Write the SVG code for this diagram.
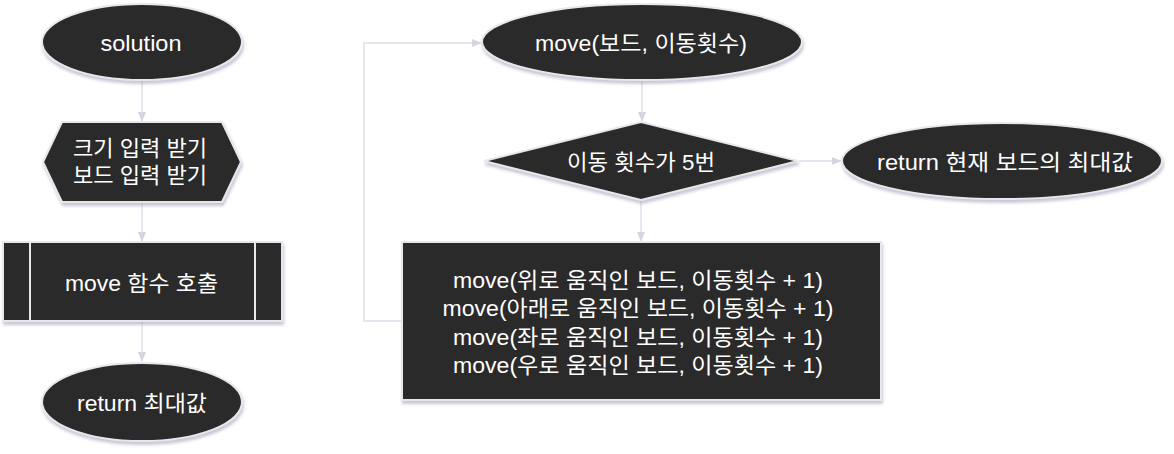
<svg xmlns="http://www.w3.org/2000/svg" width="1174" height="454" viewBox="0 0 1174 454">
<defs>
<filter id="sh" x="-10%" y="-10%" width="120%" height="130%">
<feDropShadow dx="1" dy="3" stdDeviation="1.5" flood-color="#9a9ab8" flood-opacity="0.55"/>
</filter>
<marker id="ah" viewBox="0 0 10 10" refX="9" refY="5" markerWidth="5" markerHeight="5" orient="auto">
<path d="M0,1 L10,5 L0,9 z" fill="#d6d6e0"/>
</marker>
</defs>
<style>
.n{fill:#2a2a2a;stroke:#e8e8ec;stroke-width:2;filter:url(#sh)}
.t{font-family:"Liberation Sans","Noto Sans CJK KR",sans-serif;font-size:22px;fill:#ffffff;text-anchor:middle;dominant-baseline:central}
.c{fill:none;stroke:#e6e6ee;stroke-width:2;marker-end:url(#ah)}
.il{stroke:#e8e8ec;stroke-width:2}
</style>
<rect width="1174" height="454" fill="#ffffff"/>
<g id="connectors">
<path class="c" d="M142,81 L142,121"/>
<path class="c" d="M142,203 L142,241"/>
<path class="c" d="M142,322 L142,361"/>
<path class="c" d="M642,81 L642,121"/>
<path class="c" d="M641,201 L641,241"/>
<path class="c" d="M799,161 L841,161"/>
<path class="c" d="M402,321 L364,321 L364,43 L481,43"/>
</g>
<g id="solution">
<ellipse class="n" cx="142" cy="42" rx="100" ry="38"/>
<text class="t" x="141" y="43" textLength="81" lengthAdjust="spacingAndGlyphs">solution</text>
</g>
<g id="input">
<polygon class="n" points="62,122 222,122 241,162 222,202 62,202 43,162"/>
<text class="t" x="140" y="148" textLength="134" lengthAdjust="spacingAndGlyphs">크기 입력 받기</text>
<text class="t" x="140" y="175" textLength="134" lengthAdjust="spacingAndGlyphs">보드 입력 받기</text>
</g>
<g id="callMove">
<rect class="n" x="3" y="242" width="279" height="79"/>
<line class="il" x1="30" y1="242" x2="30" y2="321"/>
<line class="il" x1="255" y1="242" x2="255" y2="321"/>
<text class="t" x="141.5" y="283" textLength="153" lengthAdjust="spacingAndGlyphs">move 함수 호출</text>
</g>
<g id="returnMax">
<ellipse class="n" cx="142" cy="402" rx="100" ry="39"/>
<text class="t" x="142" y="403" textLength="130" lengthAdjust="spacingAndGlyphs">return 최대값</text>
</g>
<g id="moveFn">
<ellipse class="n" cx="642" cy="42" rx="160" ry="38"/>
<text class="t" x="641" y="43" textLength="212" lengthAdjust="spacingAndGlyphs">move(보드, 이동횟수)</text>
</g>
<g id="decision">
<polygon class="n" points="484,161 641,122 798,161 641,200"/>
<text class="t" x="641" y="162" textLength="148" lengthAdjust="spacingAndGlyphs">이동 횟수가 5번</text>
</g>
<g id="returnBoard">
<ellipse class="n" cx="1002" cy="161" rx="160" ry="38"/>
<text class="t" x="1005" y="162" textLength="256" lengthAdjust="spacingAndGlyphs">return 현재 보드의 최대값</text>
</g>
<g id="recurse">
<rect class="n" x="402" y="242" width="479" height="158"/>
<text class="t" x="638" y="280" textLength="370" lengthAdjust="spacingAndGlyphs">move(위로 움직인 보드, 이동횟수 + 1)</text>
<text class="t" x="638" y="308" textLength="391" lengthAdjust="spacingAndGlyphs">move(아래로 움직인 보드, 이동횟수 + 1)</text>
<text class="t" x="638" y="337" textLength="370" lengthAdjust="spacingAndGlyphs">move(좌로 움직인 보드, 이동횟수 + 1)</text>
<text class="t" x="638" y="365" textLength="370" lengthAdjust="spacingAndGlyphs">move(우로 움직인 보드, 이동횟수 + 1)</text>
</g>
</svg>
